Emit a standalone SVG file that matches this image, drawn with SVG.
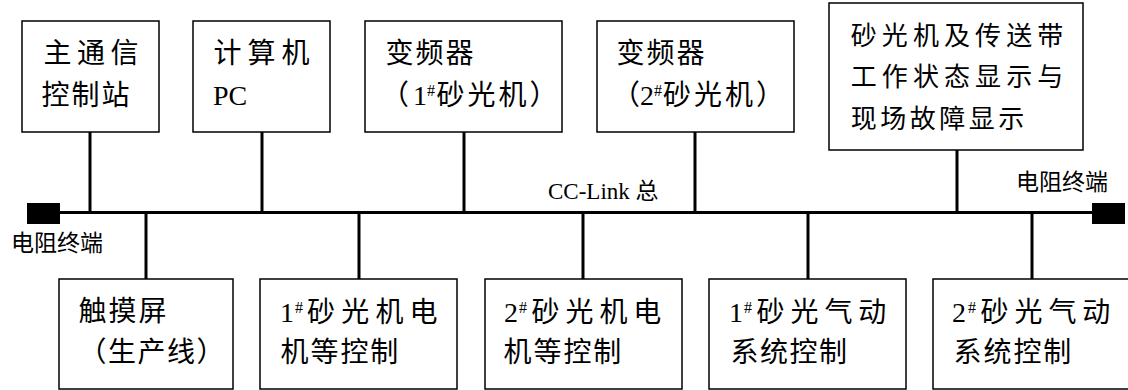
<svg xmlns="http://www.w3.org/2000/svg" width="1128" height="390" viewBox="0 0 1128 390">
<style>
.box{fill:#fff;stroke:#000;stroke-width:1.5}
.t{font-family:"Liberation Serif","Noto Sans CJK SC",sans-serif;font-size:28px;fill:#000}
.s{font-family:"Liberation Serif",serif;font-size:16px;fill:#000}
.w{stroke:#000;stroke-width:3;fill:none}
.lbl{font-family:"Liberation Serif","Noto Sans CJK SC",sans-serif;font-size:23px;fill:#000}
</style>
<rect width="1128" height="390" fill="#fff"/>
<g id="connectors">
<line class="w" x1="60" y1="212.5" x2="1092" y2="212.5"/>
<line class="w" x1="90" y1="132" x2="90" y2="212"/>
<line class="w" x1="262" y1="132" x2="262" y2="212"/>
<line class="w" x1="464" y1="132" x2="464" y2="212"/>
<line class="w" x1="695" y1="132" x2="695" y2="212"/>
<line class="w" x1="957" y1="150" x2="957" y2="212"/>
<line class="w" x1="146" y1="213" x2="146" y2="279"/>
<line class="w" x1="359" y1="213" x2="359" y2="279"/>
<line class="w" x1="583" y1="213" x2="583" y2="279"/>
<line class="w" x1="808" y1="213" x2="808" y2="279"/>
<line class="w" x1="1032" y1="213" x2="1032" y2="279"/>
</g>
<g id="term-left">
<rect x="27" y="203" width="33" height="21" fill="#000"/>
<text class="lbl" x="11" y="251">电阻终端</text>
</g>
<g id="term-right">
<rect x="1092" y="203" width="33" height="21" fill="#000"/>
<text class="lbl" x="1016" y="190">电阻终端</text>
</g>
<g id="bus-label">
<text class="t" style="font-size:23px" x="548" y="199">CC-Link 总</text>
</g>
<g id="master">
<rect class="box" x="22" y="21" width="137" height="111"/>
<text class="t" x="43.6" y="63" letter-spacing="5.4">主通信</text>
<text class="t" x="41.6" y="105" letter-spacing="1.9">控制站</text>
</g>
<g id="pc">
<rect class="box" x="193" y="21" width="137" height="111"/>
<text class="t" x="213.6" y="63" letter-spacing="5.9">计算机</text>
<text class="t" x="213" y="105">PC</text>
</g>
<g id="inv1">
<rect class="box" x="365" y="21" width="197" height="111"/>
<text class="t" x="385.6" y="63" letter-spacing="1.9">变频器</text>
<text class="t" y="105"><tspan x="381">（</tspan><tspan x="413">1</tspan><tspan class="s" x="427" dy="-9">#</tspan><tspan x="436.6" dy="9" letter-spacing="3">砂光机）</tspan></text>
</g>
<g id="inv2">
<rect class="box" x="597" y="21" width="197" height="111"/>
<text class="t" x="616.6" y="63" letter-spacing="1.9">变频器</text>
<text class="t" y="105"><tspan x="612">（</tspan><tspan x="640">2</tspan><tspan class="s" x="654" dy="-9">#</tspan><tspan x="663" dy="9" letter-spacing="3">砂光机）</tspan></text>
</g>
<g id="display">
<rect class="box" x="829" y="3" width="254" height="147"/>
<text class="t" style="font-size:26px" x="850.7" y="45" letter-spacing="5.1">砂光机及传送带</text>
<text class="t" style="font-size:26px" x="850.7" y="86" letter-spacing="5.1">工作状态显示与</text>
<text class="t" style="font-size:26px" x="850.7" y="128" letter-spacing="3.5">现场故障显示</text>
</g>
<g id="touch">
<rect class="box" x="59" y="279" width="174" height="110"/>
<text class="t" x="78.6" y="321" letter-spacing="1.9">触摸屏</text>
<text class="t" x="78.6" y="362" letter-spacing="1.5">（生产线）</text>
</g>
<g id="motor1">
<rect class="box" x="260" y="279" width="197" height="110"/>
<text class="t" y="322"><tspan x="280">1</tspan><tspan class="s" x="295" dy="-9">#</tspan><tspan x="307" dy="9" letter-spacing="6.2">砂光机电</tspan></text>
<text class="t" x="280.6" y="362" letter-spacing="1.9">机等控制</text>
</g>
<g id="motor2">
<rect class="box" x="485" y="279" width="197" height="110"/>
<text class="t" y="322"><tspan x="504">2</tspan><tspan class="s" x="519" dy="-9">#</tspan><tspan x="531.6" dy="9" letter-spacing="5.9">砂光机电</tspan></text>
<text class="t" x="503.6" y="362" letter-spacing="1.9">机等控制</text>
</g>
<g id="pneu1">
<rect class="box" x="709" y="279" width="197" height="110"/>
<text class="t" y="322"><tspan x="729">1</tspan><tspan class="s" x="744" dy="-9">#</tspan><tspan x="756.6" dy="9" letter-spacing="5.9">砂光气动</tspan></text>
<text class="t" x="730.6" y="362" letter-spacing="1.5">系统控制</text>
</g>
<g id="pneu2">
<rect class="box" x="933" y="279" width="200" height="110"/>
<text class="t" y="322"><tspan x="952">2</tspan><tspan class="s" x="968" dy="-9">#</tspan><tspan x="980.6" dy="9" letter-spacing="5.9">砂光气动</tspan></text>
<text class="t" x="953.6" y="362" letter-spacing="1.9">系统控制</text>
</g>
</svg>
